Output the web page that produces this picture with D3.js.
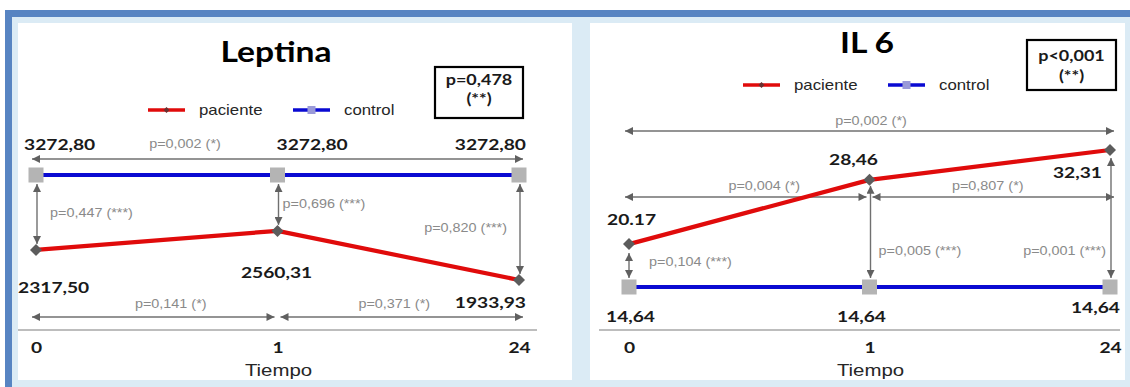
<!DOCTYPE html>
<html>
<head>
<meta charset="utf-8">
<script src="https://cdn.jsdelivr.net/npm/d3@7"></script>
<style>
  html, body { margin: 0; padding: 0; background: #ffffff; }
  svg { display: block; }
  .val { font-family: Lato, "Open Sans", sans-serif; font-weight: 700; font-size: 16px; fill: #1a1a1a; }
  .title { font-family: Lato, "Open Sans", sans-serif; font-weight: 700; font-size: 28px; fill: #000; }
  .pbox { font-family: Lato, "Open Sans", sans-serif; font-weight: 700; font-size: 15px; fill: #1a1a1a; }
  .pgray { font-family: "Liberation Sans", Arial, sans-serif; font-size: 12px; fill: #8a8a8a; }
  .leg { font-family: "Liberation Sans", Arial, sans-serif; font-size: 14px; fill: #262626; }
  .axisTitle { font-family: "Liberation Sans", Arial, sans-serif; font-size: 17px; fill: #262626; }
  .tick text { font-family: Lato, "Open Sans", sans-serif; font-weight: 700; font-size: 16px; fill: #1a1a1a; }
</style>
</head>
<body>
<svg id="chart" width="1130" height="387"></svg>
<script>
// ---- data ----
const tiempos = ["0", "1", "24"];
const series = ["paciente", "control"];

const leptinaPaciente = [2317.50, 2560.31, 1933.93];
const leptinaControl = [3272.80, 3272.80, 3272.80];
const leptinaPacienteLabels = ["2317,50", "2560,31", "1933,93"];
const leptinaControlLabels = ["3272,80", "3272,80", "3272,80"];
const leptinaPGlobal = ["p=0,478", "(**)"];
const leptinaPTiempo = ["p=0,002 (*)", "p=0,141 (*)", "p=0,371 (*)"];   // 0-24, 0-1, 1-24
const leptinaPGrupo = ["p=0,447 (***)", "p=0,696 (***)", "p=0,820 (***)"];

const il6Paciente = [20.17, 28.46, 32.31];
const il6Control = [14.64, 14.64, 14.64];
const il6PacienteLabels = ["20.17", "28,46", "32,31"];
const il6ControlLabels = ["14,64", "14,64", "14,64"];
const il6PGlobal = ["p<0,001", "(**)"];
const il6PTiempo = ["p=0,002 (*)", "p=0,004 (*)", "p=0,807 (*)"];
const il6PGrupo = ["p=0,104 (***)", "p=0,005 (***)", "p=0,001 (***)"];

// ---- styling ----
const SX = 1.2;              // horizontal stretch applied to all text
const RED = "#e00b0b";
const BLUE = "#0a0ad2";
const ARROW = "#707070";
const SQUARE = "#b4b4b4";
const DIAMOND = "#5c5c5c";

const svg = d3.select("#chart");

// frame and panel backgrounds
svg.append("rect").attr("x", 5).attr("y", 10).attr("width", 1125).attr("height", 377).attr("fill", "#5784c2");
svg.append("rect").attr("x", 12).attr("y", 17).attr("width", 1118).attr("height", 370).attr("fill", "#dbebf5");
svg.append("rect").attr("x", 18).attr("y", 23).attr("width", 554).attr("height", 357).attr("fill", "#ffffff");
svg.append("rect").attr("x", 590).attr("y", 23).attr("width", 535).attr("height", 357).attr("fill", "#ffffff");

// arrowhead marker
const defs = svg.append("defs");
defs.append("marker")
  .attr("id", "head")
  .attr("viewBox", "0 0 10 10")
  .attr("refX", 10).attr("refY", 5)
  .attr("markerUnits", "userSpaceOnUse")
  .attr("markerWidth", 9).attr("markerHeight", 8)
  .attr("orient", "auto-start-reverse")
  .append("path").attr("d", "M0,0 L10,5 L0,10 Z").attr("fill", "#606060");

function label(g, x, y, s, cls, anchor) {
  return g.append("text")
    .attr("class", cls)
    .attr("text-anchor", anchor || "start")
    .attr("transform", `translate(${x},${y}) scale(${SX},1)`)
    .text(s);
}

function arrow(g, x1, y1, x2, y2) {
  g.append("line")
    .attr("x1", x1).attr("y1", y1).attr("x2", x2).attr("y2", y2)
    .attr("stroke", ARROW).attr("stroke-width", 1.4)
    .attr("marker-start", "url(#head)").attr("marker-end", "url(#head)");
}

function drawPanel(cfg) {
  const g = svg.append("g");
  const x = d3.scalePoint().domain(tiempos).range(cfg.xRange);
  const y = d3.scaleLinear()
    .domain(d3.extent(cfg.paciente.concat(cfg.control)))
    .range(cfg.yRange);

  const pts = (vals) => tiempos.map((t, i) => ({ t, v: vals[i] }));
  const pac = pts(cfg.paciente), ctl = pts(cfg.control);
  const line = d3.line().x(d => x(d.t)).y(d => y(d.v));

  // title and global p box
  label(g, cfg.title.x, cfg.title.y, cfg.title.text, "title", "middle");
  g.append("rect")
    .attr("x", cfg.box.x).attr("y", cfg.box.y).attr("width", cfg.box.w).attr("height", cfg.box.h)
    .attr("fill", "#fff").attr("stroke", "#000").attr("stroke-width", 2.2);
  label(g, cfg.box.x + cfg.box.w / 2, cfg.box.y + cfg.box.t1, cfg.pGlobal[0], "pbox", "middle");
  label(g, cfg.box.x + cfg.box.w / 2, cfg.box.y + cfg.box.t2, cfg.pGlobal[1], "pbox", "middle");

  // legend
  const lg = g.append("g").attr("transform", `translate(${cfg.legend.x},${cfg.legend.y})`);
  const legItems = [
    { name: series[0], color: RED, mark: "diamond", dx: 0 },
    { name: series[1], color: BLUE, mark: "square", dx: 145 }
  ];
  legItems.forEach(it => {
    lg.append("line").attr("x1", it.dx).attr("x2", it.dx + 37).attr("y1", 0).attr("y2", 0)
      .attr("stroke", it.color).attr("stroke-width", 3.5);
    if (it.mark === "diamond") {
      lg.append("path").attr("d", d3.symbol(d3.symbolSquare, 18)())
        .attr("transform", `translate(${it.dx + 18.5},0) rotate(45)`).attr("fill", "#6a3030");
    } else {
      lg.append("rect").attr("x", it.dx + 14.5).attr("y", -4).attr("width", 8).attr("height", 8)
        .attr("fill", "#9a9ad8");
    }
    label(lg, it.dx + 51, 5, it.name, "leg", "start");
  });

  // x axis
  const axisY = cfg.axisY;
  g.append("line")
    .attr("x1", cfg.xRange[0] - cfg.axisPad[0]).attr("x2", cfg.xRange[1] + cfg.axisPad[1])
    .attr("y1", axisY).attr("y2", axisY)
    .attr("stroke", "#bdbdbd").attr("stroke-width", 2);
  const ax = g.append("g").attr("transform", `translate(0,${axisY})`)
    .call(d3.axisBottom(x).tickSize(0).tickPadding(0));
  ax.select(".domain").remove();
  ax.selectAll(".tick text")
    .attr("dy", null).attr("y", 23)
    .attr("transform", `scale(${SX},1)`)
    .attr("x", 0)
    .attr("fill", "#1a1a1a");
  label(g, x(tiempos[1]) + 1, axisY + 46, "Tiempo", "axisTitle", "middle");

  // comparison arrows between time points
  const at = cfg.arrowsTime;
  arrow(g, x(tiempos[0]) - 4, at.spanY, x(tiempos[2]) + 4, at.spanY);
  arrow(g, x(tiempos[0]) - 4, at.pairY, x(tiempos[1]) - 3, at.pairY);
  arrow(g, x(tiempos[1]) + 3, at.pairY, x(tiempos[2]) + 4, at.pairY);
  label(g, at.spanLabel[0], at.spanLabel[1], cfg.pTiempo[0], "pgray", "middle");
  label(g, (x(tiempos[0]) + x(tiempos[1])) / 2 + at.pairDx[0], at.pairY - at.pairDy, cfg.pTiempo[1], "pgray", "middle");
  label(g, (x(tiempos[1]) + x(tiempos[2])) / 2 + at.pairDx[1], at.pairY - at.pairDy, cfg.pTiempo[2], "pgray", "middle");

  // comparison arrows between groups
  tiempos.forEach((t, i) => {
    const yp = y(cfg.paciente[i]), yc = y(cfg.control[i]);
    const top = Math.min(yp, yc), bot = Math.max(yp, yc);
    const topIsCtrl = yc < yp;
    const offTop = topIsCtrl ? 9 : (cfg.vTopPad[i]);
    const offBot = topIsCtrl ? 6 : 9;
    const xx = x(t) + cfg.vDx[i];
    arrow(g, xx, top + offTop, xx, bot - offBot);
    const pl = cfg.pGrupoPos[i];
    label(g, x(t) + pl[0], pl[1], cfg.pGrupo[i], "pgray", pl[2]);
  });

  // control series
  g.append("path").datum(ctl).attr("d", line)
    .attr("fill", "none").attr("stroke", BLUE).attr("stroke-width", 4);
  g.selectAll(".sq").data(ctl).enter().append("rect")
    .attr("x", d => x(d.t) - 7.5).attr("y", d => y(d.v) - 7.5)
    .attr("width", 15).attr("height", 15)
    .attr("fill", SQUARE);

  // patient series
  g.append("path").datum(pac).attr("d", line)
    .attr("fill", "none").attr("stroke", RED).attr("stroke-width", 4.2)
    .attr("stroke-linejoin", "round");
  g.selectAll(".dm").data(pac).enter().append("path")
    .attr("d", d3.symbol(d3.symbolSquare, 72)())
    .attr("transform", d => `translate(${x(d.t)},${y(d.v)}) rotate(45)`)
    .attr("fill", DIAMOND);

  // value labels
  cfg.pacienteLabels.forEach((s, i) => {
    const p = cfg.pacLabelPos[i];
    label(g, x(tiempos[i]) + p[0], y(cfg.paciente[i]) + p[1], s, "val", p[2]);
  });
  cfg.controlLabels.forEach((s, i) => {
    const p = cfg.ctlLabelPos[i];
    label(g, x(tiempos[i]) + p[0], y(cfg.control[i]) + p[1], s, "val", p[2]);
  });
}

drawPanel({
  paciente: leptinaPaciente, control: leptinaControl,
  pacienteLabels: leptinaPacienteLabels, controlLabels: leptinaControlLabels,
  pGlobal: leptinaPGlobal, pTiempo: leptinaPTiempo, pGrupo: leptinaPGrupo,
  xRange: [36, 519], yRange: [280, 175],
  axisY: 330, axisPad: [18, 18],
  title: { text: "Leptina", x: 276, y: 62 },
  box: { x: 435, y: 67, w: 88, h: 51, t1: 18, t2: 37 },
  legend: { x: 148, y: 110 },
  arrowsTime: { spanY: 159, pairY: 317, spanLabel: [185, 148], pairDx: [14, -4], pairDy: 9 },
  vDx: [1, 1, 1], vTopPad: [9, 9, 9],
  pGrupoPos: [[14, 217, "start"], [5, 208, "start"], [-12, 232, "end"]],
  pacLabelPos: [[-18, 43, "start"], [-1, 47, "middle"], [7, 28, "end"]],
  ctlLabelPos: [[-12, -25, "start"], [-1, -25, "start"], [7, -25, "end"]]
});

drawPanel({
  paciente: il6Paciente, control: il6Control,
  pacienteLabels: il6PacienteLabels, controlLabels: il6ControlLabels,
  pGlobal: il6PGlobal, pTiempo: il6PTiempo, pGrupo: il6PGrupo,
  xRange: [629, 1110], yRange: [287, 150],
  axisY: 330, axisPad: [30, 10],
  title: { text: "IL 6", x: 867, y: 53 },
  box: { x: 1027, y: 40, w: 89, h: 50, t1: 21, t2: 41 },
  legend: { x: 743, y: 85 },
  arrowsTime: { spanY: 131, pairY: 197, spanLabel: [871, 125], pairDx: [15, -2], pairDy: 7 },
  vDx: [0, 1, 1], vTopPad: [9, 6, 8],
  pGrupoPos: [[20, 266, "start"], [9, 255, "start"], [-4, 255, "end"]],
  pacLabelPos: [[-22, -19, "start"], [-16, -15, "middle"], [-8, 28, "end"]],
  ctlLabelPos: [[-23, 35, "start"], [-8, 35, "middle"], [10, 26, "end"]]
});
</script>
</body>
</html>
